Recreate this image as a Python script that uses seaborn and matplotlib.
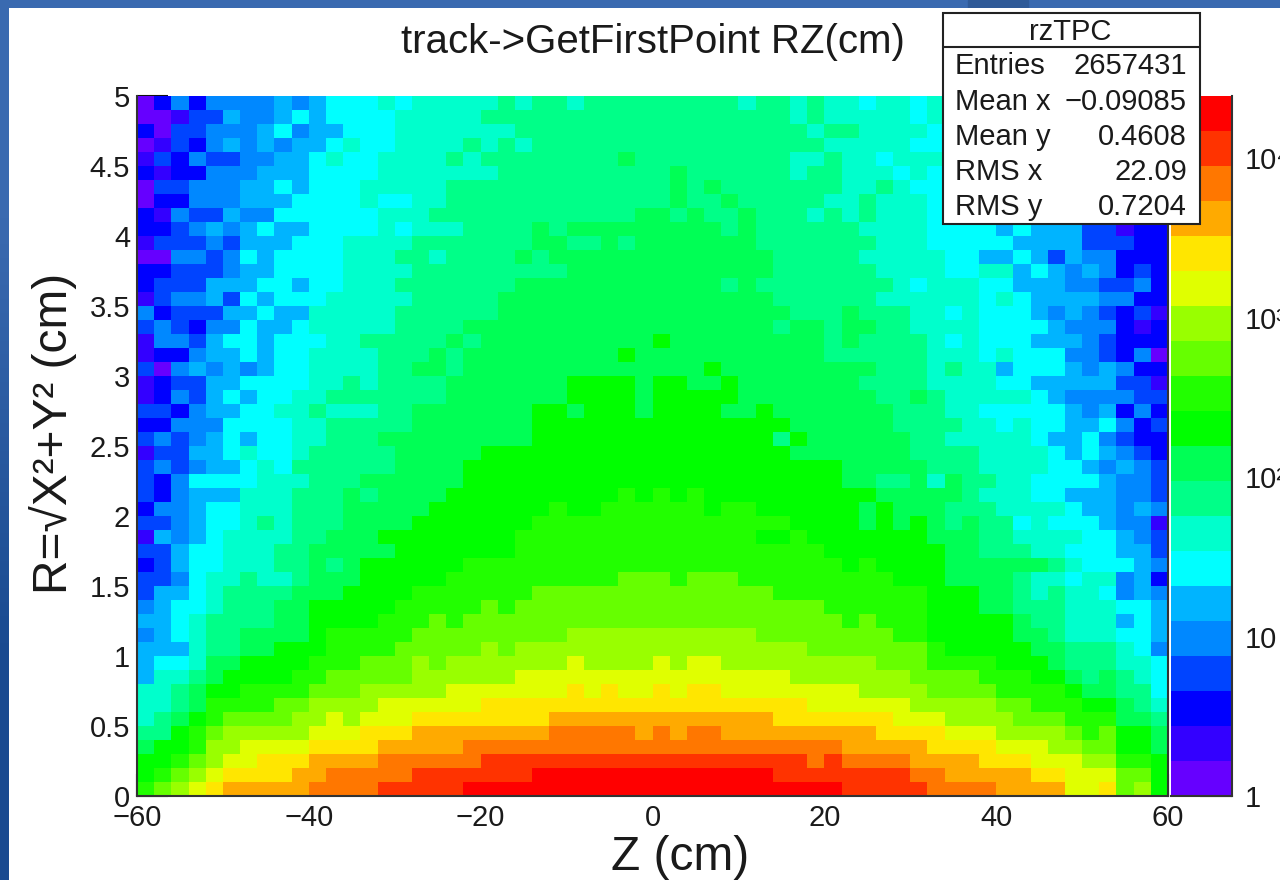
# track->GetFirstPoint RZ histogram (ROOT colz look) with seaborn

import numpy as np
import seaborn as sns
import matplotlib.pyplot as plt
from matplotlib.colors import ListedColormap, LogNorm, LinearSegmentedColormap
from matplotlib.patches import Rectangle

# colour band of every bin, top row first
# one character per bin, 0 = lowest band, j = highest band
bins_left = [
    "02424444545666767777787", "00133544565666677777888", "20334445645566677777778",
    "01324545455676677778787", "13243344556766777787888", "21224445556666777777788",
    "03344455656667777788888", "02244455566667667788888", "21433544666666777888888",
    "22345456556666767778888", "13334355566677778888888", "00443465666677788788889",
    "22333455666677778888888", "23335556656677788888889", "13445365666777778888899",
    "42333556557777788888899", "34324465567777788889999", "14435665666778888898999",
    "12245565667777888989999", "30454545667777889989999", "12335566667787888899999",
    "12435656677888888899999", "33245566778777889999999", "22444666677888889999999",
    "34345656677888999999999", "13355676678888899999aaa", "3434556768888889999aaaa",
    "3246666777888999999aaaa", "324555777888989999aaaaa", "24456677788899999aaaaaa",
    "3345667878889999aaaaaaa", "15456777788999aaaaaaaab", "335667778899999aaaaaaab",
    "2356677788989aaaaaabbbb", "3346778778999aaaaabbbbb", "355678888999aaaabbbbbbb",
    "4566788899aaaaabbbbbcbc", "5567888899aaaabbbcbcccc", "4567889999abbbbbccccccc",
    "55578899aaabbbbcccccdcd", "566799aaaabbbcccdcddddd", "57789aaaabbcccccdddddde",
    "7789aabbbbcccdddddeeeee", "7789bbbbccddddeeeeeefff", "789abccccddedeeefffffff",
    "88abcdddddeeefffggggggg", "9aabddeeeeffffggggghhhh", "aabcdeefffgggghhhhhhiii",
    "abcdeffffgghhhhhiiiiiii", "bcdefggggghhhhiiiiijjjj",
]
bins_mid = [
    "8878888888887887877677", "8888888888888887877777", "8888888888888888788777",
    "8888888888888888877777", "8888898888888887787767", "8888888898888887887776",
    "8888888898988888887787", "8888888898898888877877", "8888889989889888787877",
    "9899999999989888888777", "9988989999999888888877", "8999999999999988888777",
    "8899999999999988888877", "9999999999989888888887", "9999999999999988888877",
    "9999999999999998889888", "9999999999999989989988", "9999999a99999999989888",
    "99999a9999999999988888", "9999999999a99999999988", "99aaaa9aa99a9999999888",
    "99aaaa9aaaaa9999999988", "aa9aaa9aaaa99a99999998", "aaaaaaaaaaaaaaa9999998",
    "aaaaaaaaaaaaaa8a999999", "aaaaaaaaaaaaaaa9999999", "aaaaaaaaaaaaaaaaaa9999",
    "aaaaaaaaaaaaaaaaaa9988", "aaaaabababaaaaaaaaaa99", "abaabbbbbbabbaaaaaa9a9",
    "bbbbbbbbbbbbbbbaaaa9a9", "bbbbbbbbbbbbbaabaaaaaa", "bbbbbbbbbbbbbbbbbaaaaa",
    "bbbbbbbbbbbbbbbbbbabaa", "bbbbbcccbcccbbbbbbbbba", "ccccccccccccccbbbbbbbb",
    "cccccccccccccccccbbbbb", "ccccccccccccccccccbcbb", "ccdddddddddddccccccccb",
    "ddddddddddddddddcccccc", "ddeddddedeedddddddddcc", "eeeeeeeeeeeeeeeddddddd",
    "eefefeefeffeeeeeeeeddd", "ffffffffffffffffeeeeee", "fgggggggggggggfffffffe",
    "ghhhhhghghhgggggggggff", "hhhhhhhhhhhhhhhhhhgggg", "iiiiiiiiiiiiiiiihihhhh",
    "jjjjjjjjjjjjjjiiiiiiii", "jjjjjjjjjjjjjjjjjjiiii",
]
bins_right = [
    "676655544433221", "676655544433221", "766655544433221", "666655544433221",
    "776655544433221", "766655544433221", "666655544433221", "766655544433221",
    "766655544433221", "766665655533122", "766666555533322", "776655653544222",
    "776677565454232", "677766555443342", "777767655554422", "776766654543231",
    "777766665444212", "876766655543222", "877767666443240", "878775666545422",
    "877776655555331", "987777765444433", "887766666545242", "888776766556423",
    "887777765564322", "888877776565432", "988877776654543", "979887766665443",
    "999877766555443", "998887777655454", "a98988676665441", "a99988777766543",
    "aa9988877666553", "aa9999998766654", "aa9999877677452", "baaa99878776454",
    "baaa99888777665", "baaaaa988777565", "baaaaa998777665", "cbaaaaa99888764",
    "cbbbbaaa9888776", "ccccbbbaa989876", "dccccbbbba99886", "dddddccbbbaa987",
    "eeddddcccbbb998", "ffeeeddddcbcaa9", "gffffeeeddccaa9", "ggggfffeeeddbba",
    "hhgggggffeeecca", "ihhhhggggeefcda",
]

band_chars = "0123456789abcdefghij"
# entries per bin at the middle of each colour band
band_counts = [1.3, 2.1, 3.5, 5.9, 9.8, 16, 27, 45, 74, 123,
               204, 338, 561, 931, 1545, 2564, 4254, 7059, 11700, 19400]
band_colors = ["#6600ff", "#3300ff", "#0000ff", "#0044ff", "#0088ff",
               "#00b4ff", "#00ffff", "#00ffcc", "#00ff88", "#00ff55",
               "#00ff00", "#22ff00", "#66ff00", "#99ff00", "#e0ff00",
               "#ffe600", "#ffaa00", "#ff7700", "#ff3300", "#ff0000"]

z_ticks = [-60, -40, -20, 0, 20, 40, 60]
z_labels = ["\u221260", "\u221240", "\u221220", "0", "20", "40", "60"]
r_ticks = [0, 0.5, 1, 1.5, 2, 2.5, 3, 3.5, 4, 4.5, 5]
r_labels = ["0", "0.5", "1", "1.5", "2", "2.5", "3", "3.5", "4", "4.5", "5"]
bar_ticks = [1, 10, 100, 1000, 10000]
bar_labels = ["1", "10", "10\u00b2", "10\u00b3", "10\u2074"]
bar_minor = [2, 3, 4, 5, 6, 7, 8, 9, 20, 30, 40, 50, 60, 70, 80, 90,
             200, 300, 400, 500, 600, 700, 800, 900,
             2000, 3000, 4000, 5000, 6000, 7000, 8000, 9000, 20000]

stats_names = ["Entries", "Mean x", "Mean y", "RMS x", "RMS y"]
stats_values = ["2657431", "\u22120.09085", "0.4608", "22.09", "0.7204"]

sns.set_theme(style="white")
plt.rcParams["font.family"] = ["Liberation Sans", "DejaVu Sans"]
text_color = "#1a1a1a"
W, H = 1280, 880


def px_axes(x0, y0, x1, y1, **kw):
    # axes from pixel corners, y measured from the top of the image
    return fig.add_axes([x0 / W, 1 - y1 / H, (x1 - x0) / W, (y1 - y0) / H], **kw)


rows = [a + b + c for a, b, c in zip(bins_left, bins_mid, bins_right)]
counts = np.array([[band_counts[band_chars.index(ch)] for ch in row] for row in rows])

fig = plt.figure(figsize=(12.8, 8.8), dpi=100, facecolor="white")

# slide background showing at the top and left edge
top_strip = px_axes(0, 0, 1280, 8)
top_strip.axis("off")
top_strip.add_patch(Rectangle((0, 0), 1, 1, color="#3a6ab0", transform=top_strip.transAxes))
top_strip.add_patch(Rectangle((0.756, 0), 0.047, 1, color="#2f5a98", transform=top_strip.transAxes))
left_strip = px_axes(0, 0, 9, 880)
left_strip.imshow([[0], [1]], aspect="auto", interpolation="bilinear",
                  cmap=LinearSegmentedColormap.from_list("slide", ["#3a6ab0", "#194a90"]))
left_strip.axis("off")

ax = px_axes(137, 96, 1168, 796)
cax = px_axes(1171, 96, 1232, 796)

sns.heatmap(counts, ax=ax, cbar_ax=cax, cmap=ListedColormap(band_colors),
            norm=LogNorm(vmin=1, vmax=24500), xticklabels=False, yticklabels=False)

# ticks, bins are 2 cm wide and 0.1 cm tall
ax.set_xticks([(z + 60) / 2 for z in z_ticks])
ax.set_xticklabels(z_labels, rotation=0)
ax.set_xticks([(z + 60) / 2 for z in range(-60, 61, 5)], minor=True)
ax.set_yticks([(5 - r) * 10 for r in r_ticks])
ax.set_yticklabels(r_labels, rotation=0)
ax.set_yticks(list(range(51)), minor=True)
ax.tick_params(axis="x", which="major", direction="in", length=16, width=1.5, color="#111111",
               labelsize=21, labelcolor=text_color, pad=6, bottom=True)
ax.tick_params(axis="x", which="minor", direction="in", length=8, width=1.5, color="#111111", bottom=True)
ax.tick_params(axis="y", which="major", direction="in", length=22, width=1.5, color="#111111",
               labelsize=21, labelcolor=text_color, pad=5, left=True)
ax.tick_params(axis="y", which="minor", direction="in", length=11, width=1.5, color="#111111", left=True)
for side in ["left", "bottom", "right"]:
    ax.spines[side].set_visible(True)
    ax.spines[side].set_color("#333333")
    ax.spines[side].set_linewidth(1.5)
ax.spines["top"].set_visible(False)

# colour bar
cbar = ax.collections[0].colorbar
cbar.outline.set_visible(False)
cbar.set_ticks(bar_ticks, labels=bar_labels)
cax.set_yticks(bar_minor, minor=True)
cax.set_yticklabels([], minor=True)
cax.tick_params(axis="y", which="major", direction="in", length=23, width=1.5, color="#111111",
                labelsize=21, labelcolor=text_color, pad=9, right=True)
cax.tick_params(axis="y", which="minor", direction="in", length=12, width=1.5, color="#111111", right=True)
for side in ["right", "bottom"]:
    cax.spines[side].set_visible(True)
    cax.spines[side].set_color("#333333")
    cax.spines[side].set_linewidth(1.5)

# texts and stats box in pixel coordinates
over = px_axes(0, 0, 1280, 880)
over.set_xlim(0, W)
over.set_ylim(H, 0)
over.axis("off")
over.patch.set_alpha(0)

over.text(653, 42, "track->GetFirstPoint RZ(cm)", fontsize=29, color=text_color, ha="center", va="center")
over.text(680, 858, "Z (cm)", fontsize=34.5, color=text_color, ha="center", va="center")
over.text(53, 433, "R=\u221aX\u00b2+Y\u00b2 (cm)", fontsize=34.5, color=text_color, ha="center", va="center",
          rotation=90)

over.add_patch(Rectangle((943, 13), 257, 211, facecolor="white", edgecolor="#222222", linewidth=1.5))
over.plot([943, 1200], [47, 47], color="#222222", linewidth=1.5)
over.text(1070, 32, "rzTPC", fontsize=21, color=text_color, ha="center", va="center")
stats_y = [66, 102, 137, 172, 207]
for name, value, y in zip(stats_names, stats_values, stats_y):
    over.text(955, y, name, fontsize=21, color=text_color, ha="left", va="center")
    over.text(1187, y, value, fontsize=21, color=text_color, ha="right", va="center")

fig.savefig("out.png", dpi=100)
